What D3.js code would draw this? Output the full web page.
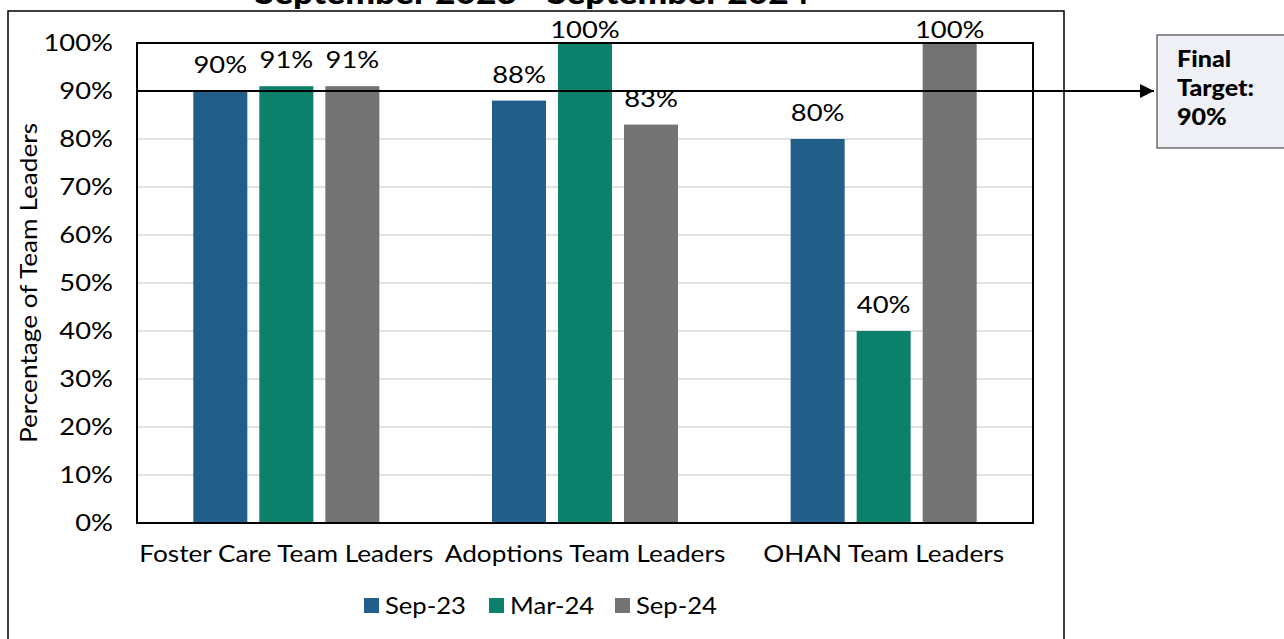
<!DOCTYPE html>
<html>
<head>
<meta charset="utf-8">
<script src="https://cdn.jsdelivr.net/npm/d3@7"></script>
<style>
  body { margin: 0; background: #fff; }
  svg { display: block; font-family: Lato, "Open Sans", sans-serif; }
</style>
</head>
<body>
<div class="diagram"></div>
<script>
const categories = ["Foster Care Team Leaders", "Adoptions Team Leaders", "OHAN Team Leaders"];
const series = ["Sep-23", "Mar-24", "Sep-24"];
const sep23 = [90, 88, 80];
const mar24 = [91, 100, 40];
const sep24 = [91, 83, 100];
const yTicks = [0, 10, 20, 30, 40, 50, 60, 70, 80, 90, 100];
const target = 90;
const titleText = "September 2023 - September 2024";

const colors = ["#215f8a", "#0b806a", "#737373"];
const values = [sep23, mar24, sep24];

const w = 1284,
h = 639,
k = 1.14, // the source text is a bit wider than Lato
pLeft = 137, pRight = 1033, pTop = 43, pBottom = 523,
svg = d3.select(".diagram")
.append("svg")
.attr("width", w)
.attr("height", h);

// widen a text horizontally around its own anchor point
function stretch(sel) {
  sel.each(function () {
    const t = d3.select(this);
    const x = +t.attr("x") || 0, y = +t.attr("y") || 0;
    t.attr("x", 0).attr("y", 0)
    .attr("transform", "translate(" + x + "," + y + ") scale(" + k + ",1)");
  });
}

// outer chart frame (runs off the bottom of the picture)
svg.append("rect")
.attr("x", 8).attr("y", 11)
.attr("width", 1056).attr("height", 700)
.attr("fill", "#fff")
.attr("stroke", "#000")
.attr("stroke-width", 1.5);

svg.append("text")
.attr("x", 532).attr("y", 4)
.attr("text-anchor", "middle")
.attr("font-size", 31)
.attr("font-weight", 900)
.text(titleText)
.call(stretch);

const yScale = d3.scaleLinear().domain([0, 100]).range([pBottom, pTop]);
const x0 = d3.scaleBand().domain(categories).range([pLeft, pRight]);
const x1 = d3.scaleBand().domain(series).range([0, x0.bandwidth()])
.paddingInner(0.1818).paddingOuter(0.853);

// gridlines
svg.append("g")
.selectAll("line")
.data(yTicks)
.enter()
.append("line")
.attr("x1", pLeft).attr("x2", pRight)
.attr("y1", d => yScale(d)).attr("y2", d => yScale(d))
.attr("stroke", "#d9d9d9")
.attr("stroke-width", 1.3);

const yAxis = d3.axisLeft(yScale)
.tickValues(yTicks)
.tickFormat(d => d + "%")
.tickSize(0)
.tickPadding(24);
const gy = svg.append("g")
.attr("transform", "translate(" + pLeft + ",0)")
.call(yAxis);
gy.select(".domain").remove();
gy.selectAll("text")
.attr("font-size", 24)
.attr("fill", "#000")
.attr("font-family", "Lato")
.attr("x", -24 / k)
.attr("transform", "scale(" + k + ",1)");

// bars
const rows = [];
categories.forEach((c, i) => series.forEach((s, j) => rows.push({ c: c, s: s, v: values[j][i], j: j })));

svg.append("g")
.selectAll("rect")
.data(rows)
.enter()
.append("rect")
.attr("x", d => x0(d.c) + x1(d.s))
.attr("y", d => yScale(d.v))
.attr("width", x1.bandwidth())
.attr("height", d => yScale(0) - yScale(d.v))
.attr("fill", d => colors[d.j]);

svg.append("g")
.selectAll("text")
.data(rows)
.enter()
.append("text")
.attr("x", d => x0(d.c) + x1(d.s) + x1.bandwidth() / 2)
.attr("y", d => Math.max(yScale(d.v) - 18, 38))
.attr("text-anchor", "middle")
.attr("font-size", 24)
.text(d => d.v + "%")
.call(stretch);

// plot frame
svg.append("rect")
.attr("x", pLeft).attr("y", pTop)
.attr("width", pRight - pLeft).attr("height", pBottom - pTop)
.attr("fill", "none")
.attr("stroke", "#000")
.attr("stroke-width", 2);

// category labels
svg.append("g")
.selectAll("text")
.data(categories)
.enter()
.append("text")
.attr("x", d => x0(d) + x0.bandwidth() / 2)
.attr("y", 562)
.attr("text-anchor", "middle")
.attr("font-size", 23)
.text(d => d)
.call(stretch);

// y title, rotated so the stretch runs along the text
svg.append("text")
.attr("transform", "translate(37,283) rotate(-90) scale(" + k + ",1)")
.attr("text-anchor", "middle")
.attr("font-size", 23)
.text("Percentage of Team Leaders");

// target line + arrow
svg.append("defs").append("marker")
.attr("id", "arrow")
.attr("viewBox", "0 0 10 10")
.attr("refX", 10).attr("refY", 5)
.attr("markerWidth", 16).attr("markerHeight", 14)
.attr("markerUnits", "userSpaceOnUse")
.attr("orient", "auto")
.append("path")
.attr("d", "M0,0 L10,5 L0,10 Z");

svg.append("line")
.attr("x1", pLeft).attr("x2", 1154)
.attr("y1", yScale(target)).attr("y2", yScale(target))
.attr("stroke", "#000")
.attr("stroke-width", 2)
.attr("marker-end", "url(#arrow)");

svg.append("rect")
.attr("x", 1157).attr("y", 35)
.attr("width", 140).attr("height", 113)
.attr("fill", "#eef0f6")
.attr("stroke", "#555")
.attr("stroke-width", 1.3);

svg.append("text")
.attr("transform", "translate(1177,67) scale(" + k + ",1)")
.attr("font-size", 22)
.attr("font-weight", 900)
.selectAll("tspan")
.data(["Final", "Target:", target + "%"])
.enter()
.append("tspan")
.attr("x", 0)
.attr("dy", (d, i) => i ? 29 : 0)
.text(d => d);

// legend
const legendX = [364, 489, 615];
const lg = svg.append("g")
.selectAll("g")
.data(series)
.enter()
.append("g")
.attr("transform", (d, i) => "translate(" + legendX[i] + ",598)");
lg.append("rect")
.attr("width", 15).attr("height", 15)
.attr("fill", (d, i) => colors[i]);
lg.append("text")
.attr("x", 21).attr("y", 15.5)
.attr("font-size", 22.5)
.text(d => d)
.call(stretch);
</script>
</body>
</html>
